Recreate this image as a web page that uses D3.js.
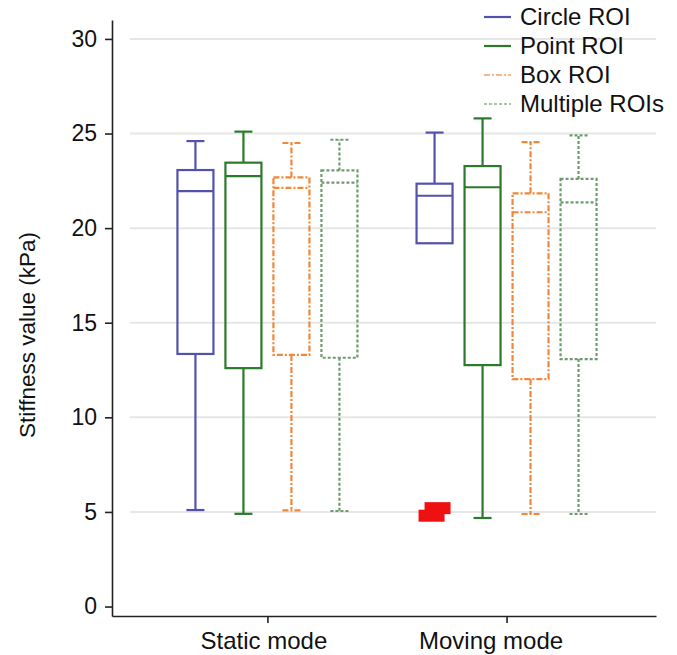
<!DOCTYPE html>
<html>
<head>
<meta charset="utf-8">
<script src="https://cdn.jsdelivr.net/npm/d3@7"></script>
<style>
  html, body { margin: 0; padding: 0; background: #fff; }
  svg { display: block; font-family: "Liberation Sans", Arial, Helvetica, sans-serif; }
</style>
</head>
<body>
<svg id="chart" width="677" height="655"></svg>
<script>
// Acquisition modes along the x axis
const modes = ["Static mode", "Moving mode"];
// ROI types drawn side by side inside each mode
const roiTypes = ["Circle ROI", "Point ROI", "Box ROI", "Multiple ROIs"];

// Box statistics per ROI type, one entry per mode (kPa)
const whiskerHigh = {
  "Circle ROI":    [24.6, 25.05],
  "Point ROI":     [25.1, 25.8],
  "Box ROI":       [24.5, 24.55],
  "Multiple ROIs": [24.67, 24.9]
};
const upperQuartile = {
  "Circle ROI":    [23.07, 22.35],
  "Point ROI":     [23.46, 23.28],
  "Box ROI":       [22.68, 21.84],
  "Multiple ROIs": [23.05, 22.6]
};
const medianValue = {
  "Circle ROI":    [21.96, 21.71],
  "Point ROI":     [22.75, 22.16],
  "Box ROI":       [22.13, 20.84],
  "Multiple ROIs": [22.4, 21.36]
};
const lowerQuartile = {
  "Circle ROI":    [13.35, 19.2],
  "Point ROI":     [12.6, 12.76],
  "Box ROI":       [13.3, 12.02],
  "Multiple ROIs": [13.15, 13.08]
};
const whiskerLow = {
  "Circle ROI":    [5.1, 19.2],
  "Point ROI":     [4.9, 4.68],
  "Box ROI":       [5.08, 4.89],
  "Multiple ROIs": [5.05, 4.89]
};
// Outlying values (Circle ROI, moving mode)
const outlierValues = [5.2, 4.8];
const outlierMode = "Moving mode";
const outlierRoi = "Circle ROI";

// y-axis tick values
const yTicks = [0, 5, 10, 15, 20, 25, 30];

// Line styles per ROI type
const roiColor = {
  "Circle ROI": "#5252ad",
  "Point ROI": "#2b7a2b",
  "Box ROI": "#f0873a",
  "Multiple ROIs": "#6f9a6f"
};
const roiDash = {
  "Circle ROI": null,
  "Point ROI": null,
  "Box ROI": "6,2,2,2",
  "Multiple ROIs": "3,2"
};

const svg = d3.select("#chart");

const y = d3.scaleLinear().domain([-0.5, 31]).range([616, 20]);
const x = d3.scaleLinear().domain([0.35, 2.625]).range([112, 656]);
const modePos = m => x(modes.indexOf(m) + 1);
const inner = d3.scaleBand().domain(roiTypes).range([-96, 96])
  .paddingInner(0.25).paddingOuter(0.125);
const bw = inner.bandwidth();

// Horizontal grid lines
svg.append("g")
  .selectAll("line")
  .data(yTicks.filter(t => t > 0))
  .join("line")
  .attr("x1", 130).attr("x2", 656)
  .attr("y1", d => y(d)).attr("y2", d => y(d))
  .attr("stroke", "#e6e6e6").attr("stroke-width", 2);

// Boxes
const items = [];
modes.forEach((m, mi) => {
  roiTypes.forEach(r => {
    items.push({
      mode: m, roi: r,
      hi: whiskerHigh[r][mi], q3: upperQuartile[r][mi], med: medianValue[r][mi],
      q1: lowerQuartile[r][mi], lo: whiskerLow[r][mi]
    });
  });
});

const boxes = svg.append("g").selectAll("g")
  .data(items)
  .join("g")
  .attr("transform", d => `translate(${modePos(d.mode) + inner(d.roi) + bw / 2},0)`)
  .attr("fill", "none")
  .attr("stroke", d => roiColor[d.roi])
  .attr("stroke-width", 2.2)
  .attr("stroke-dasharray", d => roiDash[d.roi]);

// upper whisker and cap
boxes.append("line")
  .attr("x1", 0).attr("x2", 0)
  .attr("y1", d => y(d.q3)).attr("y2", d => y(d.hi));
boxes.append("line")
  .attr("x1", -bw / 4).attr("x2", bw / 4)
  .attr("y1", d => y(d.hi)).attr("y2", d => y(d.hi));
// lower whisker and cap
boxes.filter(d => d.lo < d.q1).append("line")
  .attr("x1", 0).attr("x2", 0)
  .attr("y1", d => y(d.q1)).attr("y2", d => y(d.lo));
boxes.filter(d => d.lo < d.q1).append("line")
  .attr("x1", -bw / 4).attr("x2", bw / 4)
  .attr("y1", d => y(d.lo)).attr("y2", d => y(d.lo));
// box body
boxes.append("rect")
  .attr("x", -bw / 2).attr("width", bw)
  .attr("y", d => y(d.q3))
  .attr("height", d => y(d.q1) - y(d.q3));
// median
boxes.append("line")
  .attr("x1", -bw / 2).attr("x2", bw / 2)
  .attr("y1", d => y(d.med)).attr("y2", d => y(d.med));

// Outliers
svg.append("g").selectAll("rect")
  .data(outlierValues)
  .join("rect")
  .attr("x", (d, i) => modePos(outlierMode) + inner(outlierRoi) + bw / 2 - 13 + (i === 0 ? 3 : -3))
  .attr("y", d => y(d) - 6)
  .attr("width", 26).attr("height", 12)
  .attr("fill", "#ee1111");

// Axes
const yAxis = svg.append("g")
  .attr("transform", "translate(112,0)")
  .call(d3.axisLeft(y).tickValues(yTicks).tickSize(7).tickPadding(8).tickSizeOuter(0));
yAxis.select(".domain").attr("stroke", "#222").attr("stroke-width", 1.6);
yAxis.selectAll(".tick line").attr("stroke", "#222").attr("stroke-width", 1.6);
yAxis.selectAll(".tick text").attr("font-size", 23).attr("fill", "#111")
  .attr("font-family", "Liberation Sans, Arial, sans-serif");

const xAxis = svg.append("g")
  .attr("transform", "translate(0,616)")
  .call(d3.axisBottom(x).tickValues([1, 2]).tickFormat(d => modes[d - 1])
    .tickSize(7).tickPadding(9).tickSizeOuter(0));
xAxis.select(".domain").attr("stroke", "#222").attr("stroke-width", 1.6);
xAxis.selectAll(".tick line").attr("stroke", "#222").attr("stroke-width", 1.6);
xAxis.selectAll(".tick text").attr("font-size", 24).attr("fill", "#111")
  .attr("font-family", "Liberation Sans, Arial, sans-serif")
  .attr("dx", d => d === 1 ? -4 : -16);

// y-axis title
svg.append("text")
  .attr("transform", `translate(35,335) rotate(-90)`)
  .attr("text-anchor", "middle")
  .attr("font-size", 22.5)
  .attr("fill", "#111")
  .text("Stiffness value (kPa)");

// Legend
const legend = svg.append("g").attr("transform", "translate(484,17)");
const rows = legend.selectAll("g.row")
  .data(roiTypes)
  .join("g").attr("class", "row")
  .attr("transform", (d, i) => `translate(0,${i * 29})`);
rows.append("line")
  .attr("x1", 0).attr("x2", 27).attr("y1", 0).attr("y2", 0)
  .attr("stroke", d => roiColor[d])
  .attr("stroke-width", 2.2)
  .attr("stroke-opacity", d => roiDash[d] ? 0.6 : 1)
  .attr("stroke-dasharray", d => roiDash[d]);
rows.append("text")
  .attr("x", 36).attr("dy", "0.35em")
  .attr("font-size", 24).attr("fill", "#111")
  .text(d => d);
</script>
</body>
</html>
